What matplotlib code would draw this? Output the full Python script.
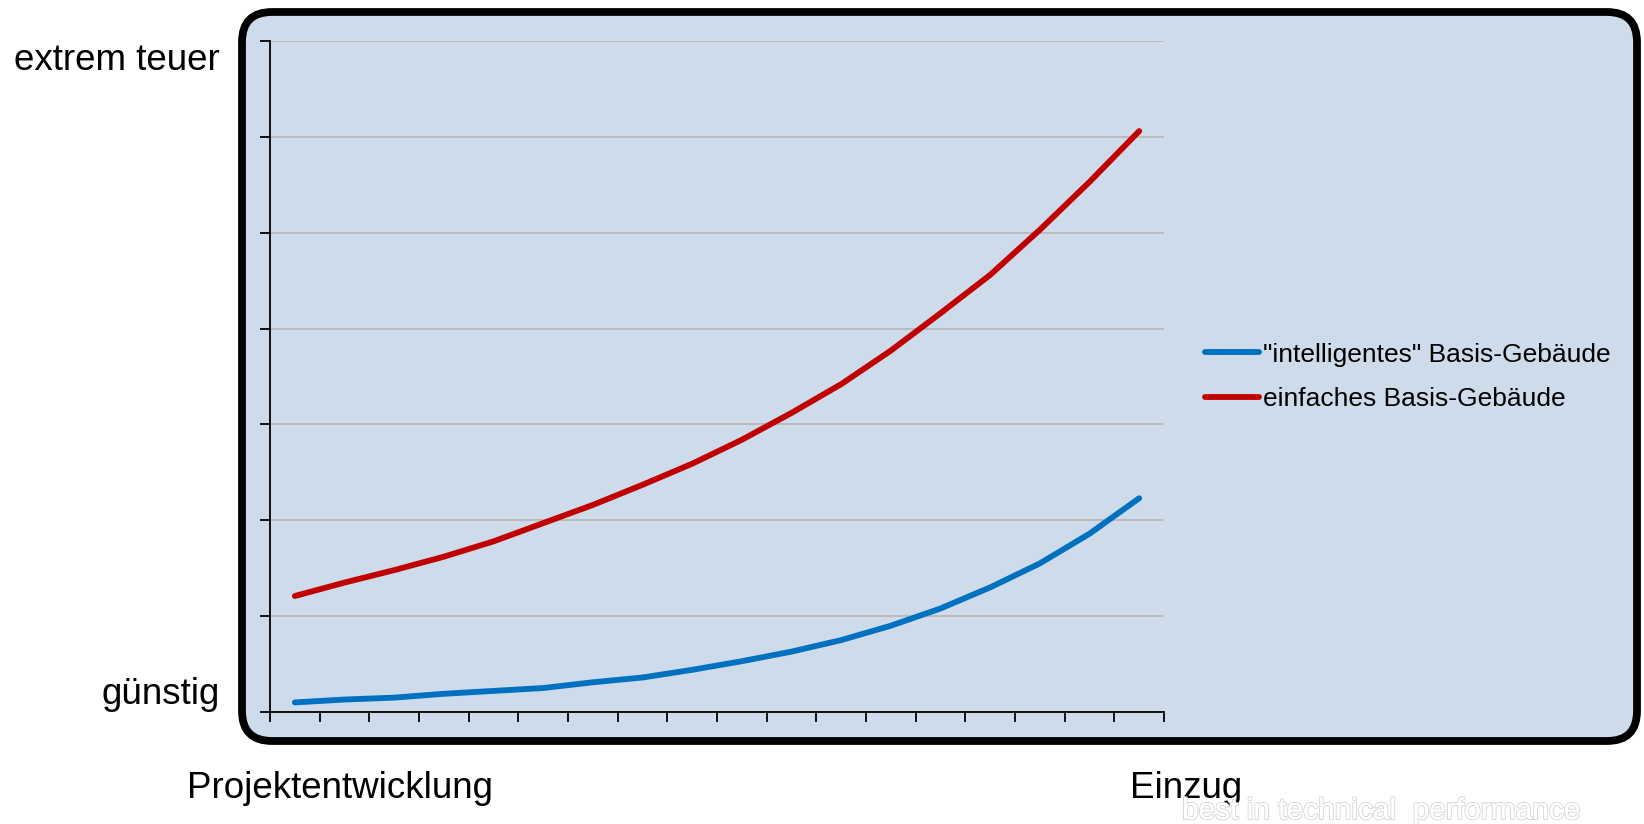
import matplotlib
matplotlib.use('Agg')
import matplotlib.pyplot as plt
import matplotlib.patheffects as pe
from matplotlib.patches import FancyBboxPatch
import numpy as np

plt.rcParams['font.family'] = ['Liberation Sans', 'DejaVu Sans']

# 18 Phasen von Projektentwicklung bis Einzug
phasen = list(range(18))
# Kosten einer Änderung (relativ, Achse 0..70)
intelligent = [1.0, 1.3, 1.5, 1.9, 2.2, 2.5, 3.1, 3.6, 4.4, 5.3, 6.3, 7.5, 9.0, 10.8, 13.0, 15.5, 18.6, 22.3]
einfach = [12.1, 13.5, 14.8, 16.2, 17.8, 19.7, 21.6, 23.7, 25.9, 28.4, 31.2, 34.2, 37.7, 41.6, 45.6, 50.3, 55.3, 60.6]
labels = ['"intelligentes" Basis-Gebäude', 'einfaches Basis-Gebäude']
y_labels = ['günstig', 'extrem teuer']
x_labels = ['Projektentwicklung', 'Einzug']

W, H = 1644, 824
fig = plt.figure(figsize=(W / 100, H / 100), dpi=100)
fig.patch.set_facecolor('white')

# Hintergrund-Rahmen in Pixelkoordinaten
bg = fig.add_axes([0, 0, 1, 1])
bg.set_xlim(0, W)
bg.set_ylim(H, 0)
bg.axis('off')
box = FancyBboxPatch((242, 12), 1637 - 242, 741 - 12,
                     boxstyle='round,pad=0,rounding_size=30',
                     facecolor='#cedbea', edgecolor='black', linewidth=5.6)
bg.add_patch(box)

ax = fig.add_axes([270 / W, 1 - 712 / H, (1164 - 270) / W, (712 - 41) / H])
ax.patch.set_alpha(0)
ax.plot(phasen, intelligent, color='#0070c0', lw=4.2, solid_capstyle='round',
        solid_joinstyle='round', label=labels[0])
ax.plot(phasen, einfach, color='#c00000', lw=4.2, solid_capstyle='round',
        solid_joinstyle='round', label=labels[1])

ax.set_xlim(-0.5, len(phasen) - 0.5)
ax.set_ylim(0, 70)
ax.set_xticks(np.arange(-0.5, len(phasen), 1.0))
ax.set_yticks(np.arange(0, 71, 10))
ax.set_xticklabels([])
ax.set_yticklabels([])
ax.tick_params(axis='x', direction='out', length=7, width=1.3, color='black')
ax.tick_params(axis='y', direction='out', length=7, width=1.3, color='black')
ax.grid(axis='y', color='#b8b8b8', lw=1.3)
ax.set_axisbelow(True)
for s in ['top', 'right']:
    ax.spines[s].set_visible(False)
ax.spines['left'].set_linewidth(1.3)
ax.spines['bottom'].set_linewidth(1.3)

fs = 26.5
fig.text(220 / W, 1 - 694 / H, y_labels[0], ha='right', va='center', fontsize=fs)
fig.text(220 / W, 1 - 60 / H, y_labels[1], ha='right', va='center', fontsize=fs)
fig.text(187 / W, 1 - 788 / H, x_labels[0], ha='left', va='center', fontsize=fs)
fig.text(1130 / W, 1 - 788 / H, x_labels[1], ha='left', va='center', fontsize=fs)

wm = fig.text(1182 / W, 1 - 811 / H, 'best in technical  performance', ha='left', va='center',
              fontsize=21.5, color='white')
wm.set_path_effects([pe.withStroke(linewidth=1.5, foreground='#d8d8d8'), pe.Normal()])

fig.legend(loc='center left', bbox_to_anchor=(1205 / W, 1 - 377 / H), frameon=False,
           fontsize=19, handlelength=2.05, handletextpad=0.15, labelspacing=0.78,
           borderpad=0, borderaxespad=0)

fig.savefig('out.png', dpi=100)
